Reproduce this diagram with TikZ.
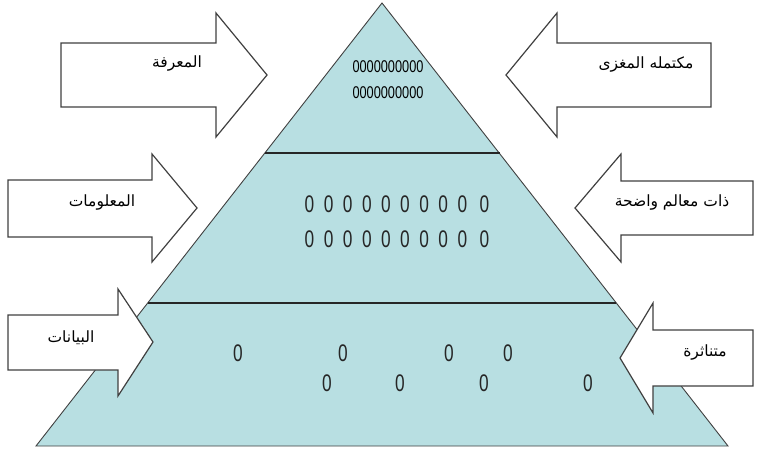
\documentclass[tikz,border=0pt]{standalone}
\usepackage{fontspec}
\setmainfont{Liberation Sans}
\newfontfamily\arabicfont[Script=Arabic]{DejaVu Sans}
\newfontfamily\zerofont[FakeStretch=0.72]{Liberation Sans}
\newfontfamily\tinyzero[FakeStretch=0.75]{Liberation Sans}
\TeXXeTstate=1
\definecolor{pyrfill}{HTML}{B8DFE2}
\definecolor{edge}{HTML}{404040}
\tikzset{
  pyr/.style={fill=pyrfill,draw=edge,line width=0.9pt,line join=miter},
  levelline/.style={draw=black!85,line width=1.4pt},
  arrowshape/.style={fill=white,draw=edge,line width=1.2pt,line join=miter},
  artext/.style={font=\arabicfont\fontsize{15.5}{17}\selectfont,inner sep=0pt,text=black},
  zrow/.style={font=\zerofont\fontsize{24}{26}\selectfont,inner sep=0pt,text=black!85},
  ztop/.style={font=\tinyzero\fontsize{17}{18}\selectfont,inner sep=0pt,text=black}
}
\begin{document}
\begin{tikzpicture}[x=1pt,y=-1pt]
\useasboundingbox (0,0) rectangle (759,462);
% pyramid
\coordinate (apex) at (382,3);
\coordinate (bl) at (36,446);
\coordinate (br) at (728,446);
\path[pyr] (apex) -- (br) -- (bl) -- cycle;
\coordinate (l1a) at (265,153);
\coordinate (l1b) at (500,153);
\coordinate (l2a) at (148,303);
\coordinate (l2b) at (616,303);
\draw[levelline] (l1a) -- (l1b);
\draw[levelline] (l2a) -- (l2b);
% arrows pointing right
\path[arrowshape] (61,43) -- (216,43) -- (216,13) -- (267,75) -- (216,137) -- (216,107) -- (61,107) -- cycle;
\path[arrowshape] (8,180) -- (152,180) -- (152,154) -- (197,208) -- (152,262) -- (152,237) -- (8,237) -- cycle;
\path[arrowshape] (8,315) -- (118,315) -- (118,289) -- (153,342) -- (118,396) -- (118,370) -- (8,370) -- cycle;
% arrows pointing left
\path[arrowshape] (711,43) -- (557,43) -- (557,13) -- (506,75) -- (557,137) -- (557,107) -- (711,107) -- cycle;
\path[arrowshape] (753,181) -- (621,181) -- (621,154) -- (575,208) -- (621,262) -- (621,235) -- (753,235) -- cycle;
\path[arrowshape] (753,330) -- (653,330) -- (653,303) -- (620,358) -- (653,413) -- (653,386) -- (753,386) -- cycle;
% arabic labels
\node[artext] (t1) at (177,64) {\beginR المعرفة\endR};
\node[artext] (t2) at (646,65) {\beginR مكتمله المغزى\endR};
\node[artext] (t3) at (102,203) {\beginR المعلومات\endR};
\node[artext] (t4) at (672,203) {\beginR ذات معالم واضحة\endR};
\node[artext] (t5) at (71,338) {\beginR البيانات\endR};
\node[artext] (t6) at (705,353) {\beginR متناثرة\endR};
% top zeros
\node[ztop] (z1) at (388,67) {0000000000};
\node[ztop] (z2) at (388,93) {0000000000};
% middle zeros
\node[zrow] (m1) at (397,204) {\spaceskip=9.5pt 0 0 0 0 0 0 0 0 0\hspace{3pt} 0};
\node[zrow] (m2) at (397,239) {\spaceskip=9.5pt 0 0 0 0 0 0 0 0 0\hspace{3pt} 0};
% bottom zeros
\node[zrow] (b1) at (238,353) {0};
\node[zrow] (b2) at (343,353) {0};
\node[zrow] (b3) at (449,353) {0};
\node[zrow] (b4) at (508,353) {0};
\node[zrow] (b5) at (327,383) {0};
\node[zrow] (b6) at (400,383) {0};
\node[zrow] (b7) at (484,383) {0};
\node[zrow] (b8) at (588,383) {0};
\end{tikzpicture}
\end{document}
